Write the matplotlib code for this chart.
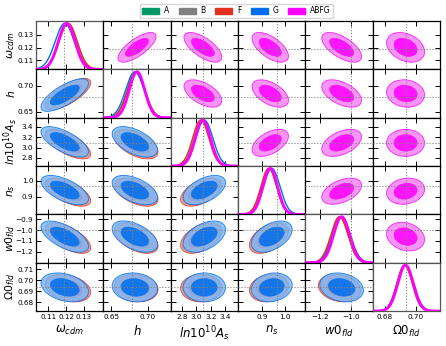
import numpy as np
import matplotlib.pyplot as plt
from matplotlib.patches import Ellipse, Patch

# parameters of the triangle plot
labels = [r'$\omega_{cdm}$', r'$h$', r'$ln10^{10}A_s$', r'$n_s$', r'$w0_{fld}$', r'$\Omega0_{fld}$']
fiducial = [0.1186, 0.678, 3.09, 0.966, -1.0, 0.6935]
limits = [(0.103, 0.141), (0.639, 0.731), (2.645, 3.575), (0.79, 1.093), (-1.30, -0.855), (0.672, 0.716)]
yticks = [[0.11, 0.12, 0.13], [0.65, 0.70], [2.8, 3.0, 3.2, 3.4], [0.9, 1.0],
          [-1.2, -1.1, -1.0, -0.9], [0.68, 0.69, 0.70, 0.71]]
xticks = [[0.11, 0.12, 0.13], [0.65, 0.70], [2.8, 3.0, 3.2, 3.4], [0.9, 1.0],
          [-1.2, -1.0], [0.68, 0.70]]

names = ['A', 'B', 'F', 'G', 'ABFG']
dark = ['#009966', '#808080', '#e1301e', '#006FED', '#ff00ff']
light = ['#7fccb2', '#c0c0c0', '#f09890', '#80b6f5', '#f585f5']

# gaussian approximations
mean_A = [0.1205, 0.6835, 3.08, 0.933, -1.070, 0.6930]
mean_B = [0.1207, 0.6838, 3.075, 0.932, -1.070, 0.6930]
mean_F = [0.1212, 0.6840, 3.06, 0.928, -1.075, 0.6928]
mean_G = [0.1192, 0.6820, 3.11, 0.942, -1.060, 0.6935]
mean_ABFG = [0.1203, 0.6850, 3.09, 0.935, -1.060, 0.6935]

sig_A = [0.0050, 0.0118, 0.110, 0.034, 0.055, 0.0050]
sig_B = [0.0049, 0.0117, 0.108, 0.034, 0.055, 0.0050]
sig_F = [0.0051, 0.0120, 0.112, 0.035, 0.056, 0.0050]
sig_G = [0.0054, 0.0125, 0.118, 0.037, 0.058, 0.0053]
sig_ABFG = [0.0047, 0.0105, 0.105, 0.033, 0.053, 0.0050]

corr = [[1.0, 0.73, -0.66, -0.60, -0.62, -0.30],
        [0.73, 1.0, -0.53, -0.50, -0.50, -0.10],
        [-0.66, -0.53, 1.0, 0.50, 0.45, 0.0],
        [-0.60, -0.50, 0.50, 1.0, 0.45, 0.15],
        [-0.62, -0.50, 0.45, 0.45, 1.0, -0.20],
        [-0.30, -0.10, 0.0, 0.15, -0.20, 1.0]]

means = [mean_A, mean_B, mean_F, mean_G, mean_ABFG]
sigs = [sig_A, sig_B, sig_F, sig_G, sig_ABFG]


def ellipse(ax, mx, my, sx, sy, rho, k, **kw):
    cov = np.array([[sx * sx, rho * sx * sy], [rho * sx * sy, sy * sy]])
    vals, vecs = np.linalg.eigh(cov)
    ang = np.degrees(np.arctan2(vecs[1, 1], vecs[0, 1]))
    ax.add_patch(Ellipse((mx, my), 2 * np.sqrt(k * vals[1]), 2 * np.sqrt(k * vals[0]),
                         angle=ang, **kw))


def contours(ax, d, i, j):
    # x = param j, y = param i
    r = corr[i][j]
    ellipse(ax, means[d][j], means[d][i], sigs[d][j], sigs[d][i], r, 6.17,
            facecolor=light[d], edgecolor=dark[d], lw=0.6, alpha=0.85)
    ellipse(ax, means[d][j], means[d][i], sigs[d][j], sigs[d][i], r, 2.30,
            facecolor=dark[d], edgecolor=dark[d], lw=0.4, alpha=0.85)


n = len(labels)
fig, axes = plt.subplots(n, n, figsize=(4.46, 3.46), dpi=100)
fig.subplots_adjust(left=36 / 446, right=440 / 446, top=1 - 21 / 346, bottom=1 - 311 / 346,
                    wspace=0, hspace=0)

for i in range(n):
    for j in range(n):
        ax = axes[i, j]
        ax.set_xlim(limits[j])
        ax.set_ylim(limits[i])
        ax.set_xticks(xticks[j])
        ax.set_yticks(yticks[i])
        ax.tick_params(direction='in', top=True, right=True, length=3.5, width=0.7,
                       labelsize=5.2, pad=2)
        for s in ax.spines.values():
            s.set_linewidth(0.9)
        if i == j:
            x = np.linspace(limits[j][0], limits[j][1], 300)
            lo, hi = limits[i]
            for d in range(5):
                g = np.exp(-0.5 * ((x - means[d][j]) / sigs[d][j]) ** 2)
                ax.plot(x, lo + g * (hi - lo) * 0.95, color=dark[d],
                        lw=2.0 if d == 4 else 1.0, zorder=3 + d)
            ax.axvline(fiducial[j], color='gray', ls=':', lw=0.8, zorder=10)
            if i > 0:
                ax.tick_params(left=False, right=False)
            else:
                ax.tick_params(right=False)
            for s in ax.spines.values():
                s.set_edgecolor('#555555')
        else:
            if i > j:
                for d in range(4):
                    contours(ax, d, i, j)
            else:
                contours(ax, 4, i, j)
            ax.axvline(fiducial[j], color='gray', ls=':', lw=0.8, zorder=10)
            ax.axhline(fiducial[i], color='gray', ls=':', lw=0.8, zorder=10)
        if j == 0:
            ax.set_ylabel(labels[i], fontsize=7.8)
            ax.yaxis.set_label_coords(-0.24 if i == 2 else -0.285, 0.5)
        else:
            ax.tick_params(labelleft=False)
        if i == n - 1:
            ax.set_xlabel(labels[j], fontsize=8.5, labelpad=3)
        else:
            ax.tick_params(labelbottom=False)

handles = [Patch(facecolor=dark[d], edgecolor=dark[d]) for d in range(5)]
fig.legend(handles, names, loc='upper center', bbox_to_anchor=(0.53, 1.0), ncol=5,
           fontsize=5.5, frameon=True, handlelength=2.2, handleheight=0.9,
           columnspacing=1.3, handletextpad=0.6, borderpad=0.35, fancybox=True)

fig.savefig('out.png', dpi=100)
